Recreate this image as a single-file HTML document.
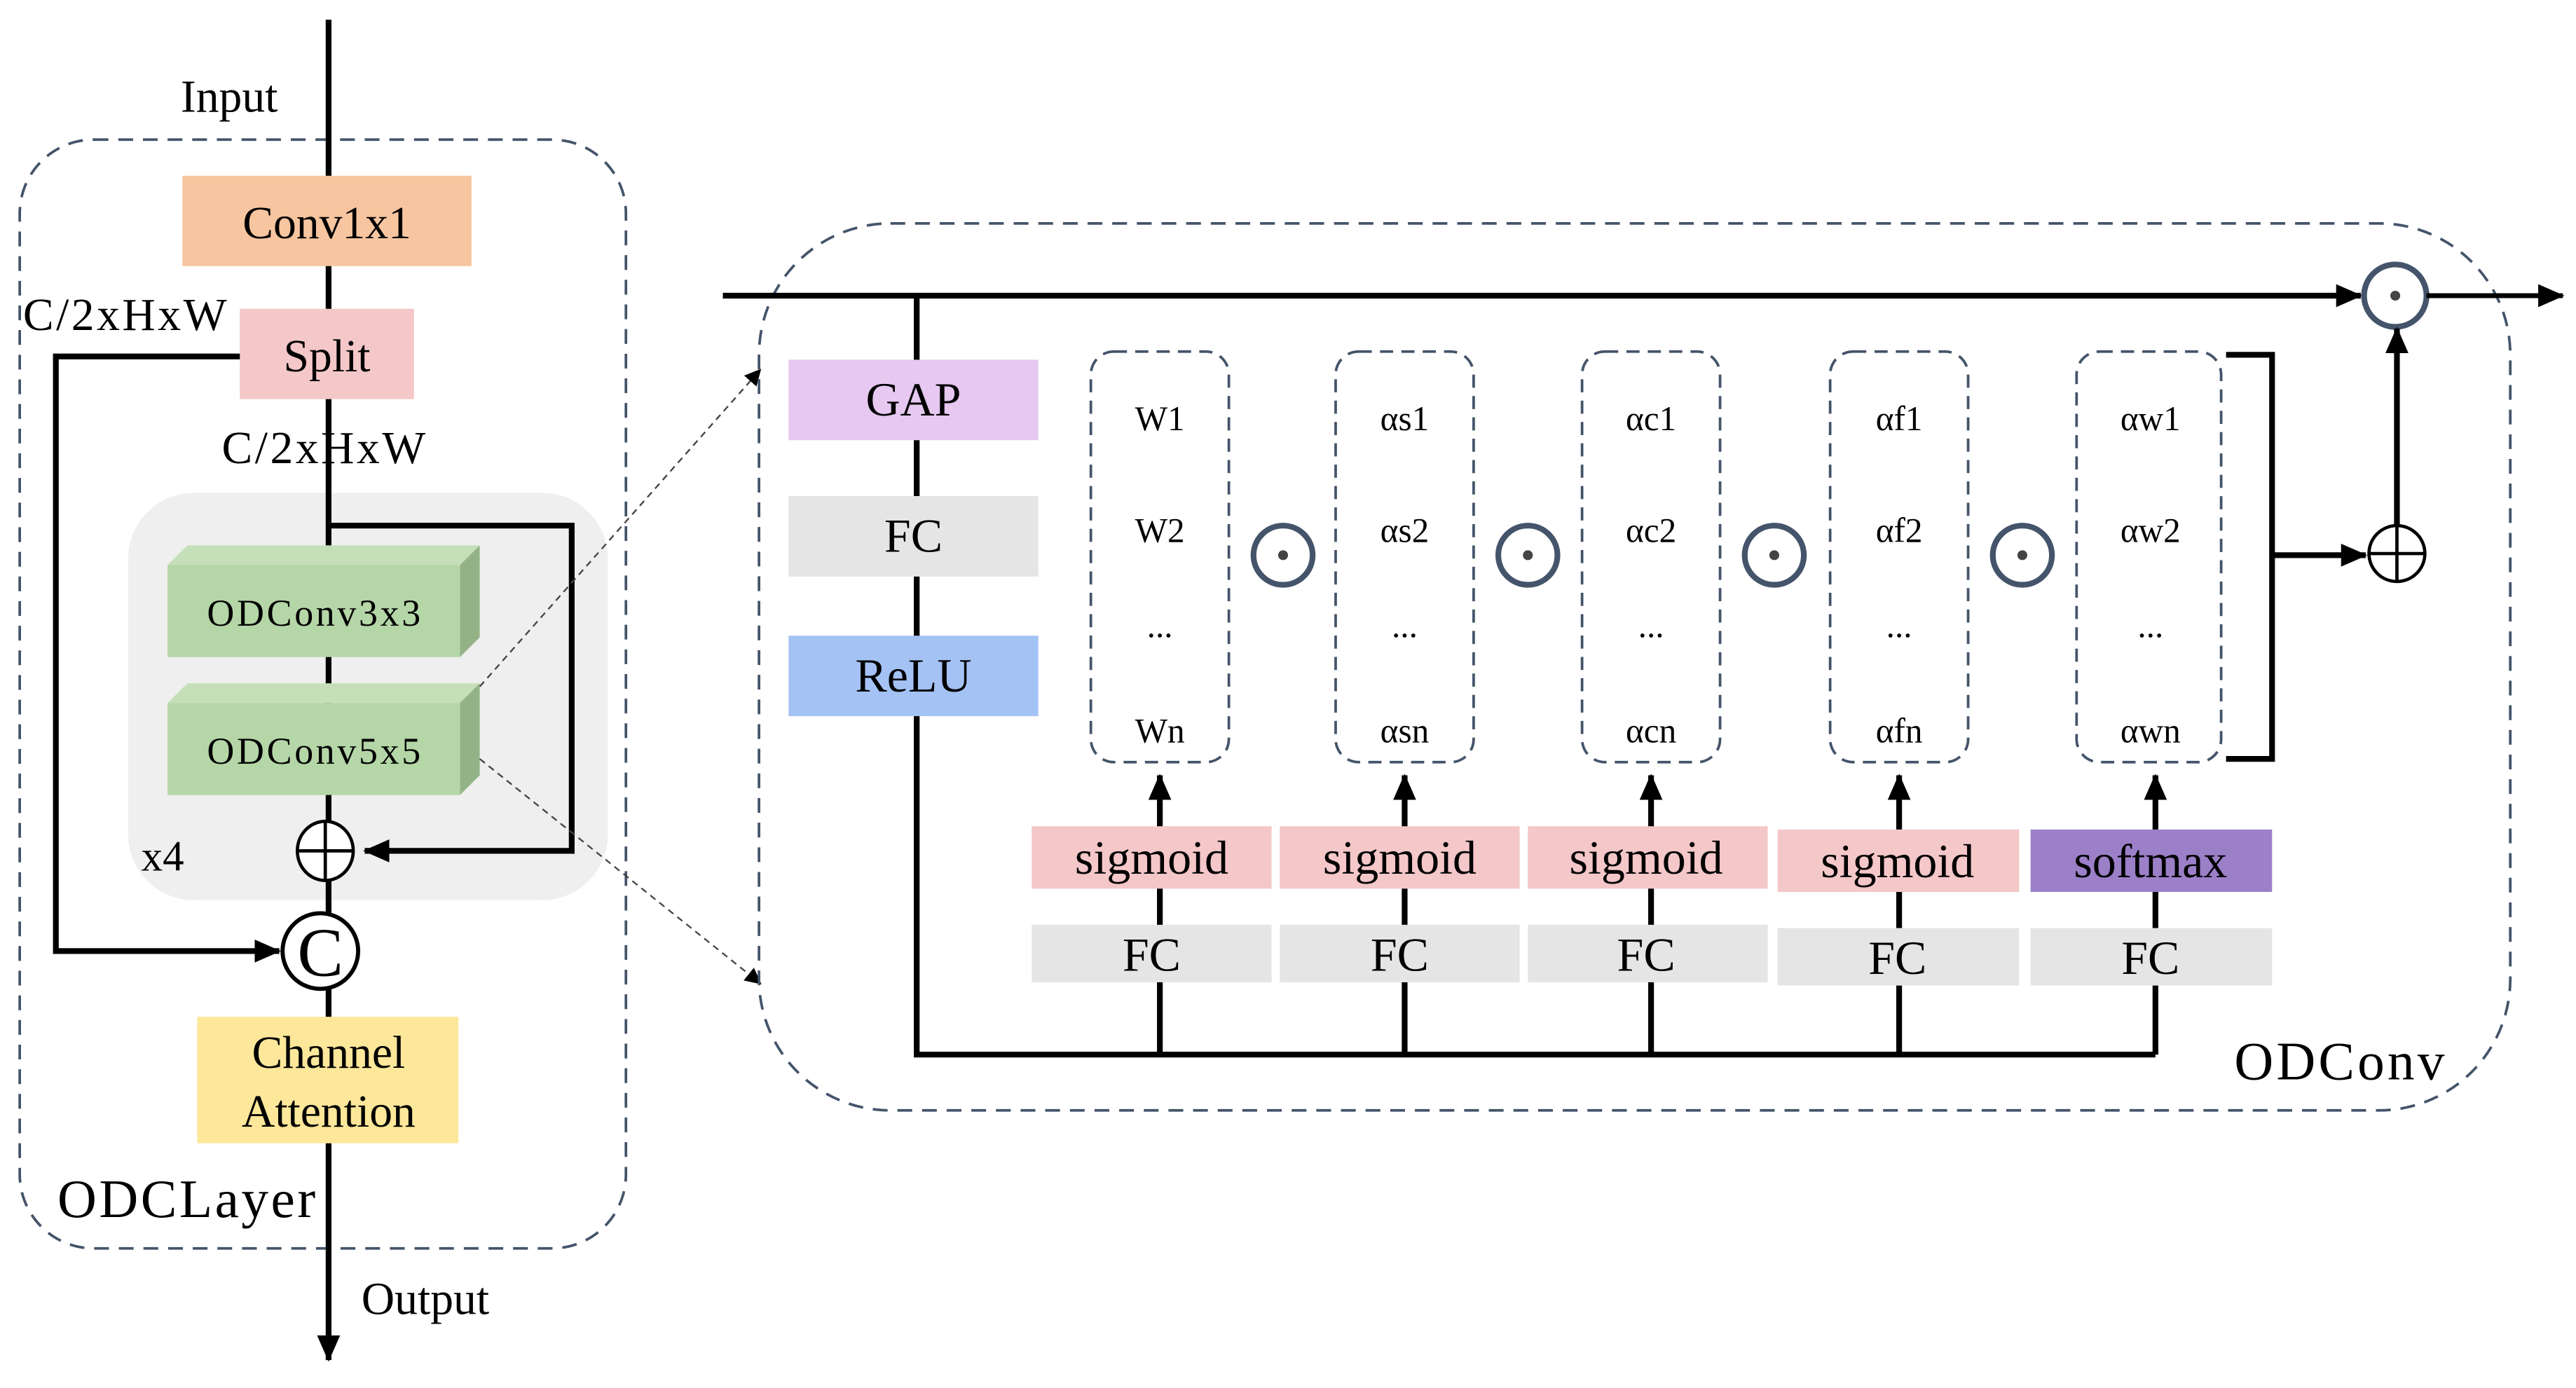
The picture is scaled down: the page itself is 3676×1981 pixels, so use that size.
<!DOCTYPE html>
<html><head><meta charset="utf-8"><style>html,body{margin:0;padding:0;background:#fff}svg{display:block}text{font-family:"Liberation Serif","DejaVu Serif",serif}</style></head><body>
<svg width="3676" height="1981" viewBox="0 0 1568 845" xmlns="http://www.w3.org/2000/svg">
<defs>
<marker id="a" markerWidth="10" markerHeight="10" refX="8" refY="5" orient="auto" markerUnits="userSpaceOnUse"><path d="M0,0 L10,5 L0,10 Z" fill="#000"/></marker>
<marker id="b" markerWidth="16" markerHeight="14" refX="15" refY="7" orient="auto" markerUnits="userSpaceOnUse"><path d="M0,0 L16,7 L0,14 Z" fill="#000"/></marker>
</defs>
<rect x="12" y="85" width="369" height="675" rx="45" fill="none" stroke="#44546a" stroke-width="1.6" stroke-dasharray="9,6"/>
<rect x="78" y="300" width="292" height="248" rx="40" fill="#efefef"/>
<line x1="200" y1="12" x2="200" y2="620" stroke="#000" stroke-width="3.5"/>
<text x="110" y="68" font-size="28">Input</text>
<rect x="111" y="107" width="176" height="55" fill="#f7c59f"/>
<text x="199" y="145" font-size="28" text-anchor="middle">Conv1x1</text>
<rect x="146" y="188" width="106" height="55" fill="#f4c7c9"/>
<text x="199" y="226" font-size="28" text-anchor="middle">Split</text>
<text x="14" y="201" font-size="28" textLength="124">C/2xHxW</text>
<text x="135" y="282" font-size="28" textLength="124">C/2xHxW</text>
<polyline points="200,320 348,320 348,518 222,518" fill="none" stroke="#000" stroke-width="3.5" marker-end="url(#b)"/>
<polyline points="146,217 34,217 34,579 170,579" fill="none" stroke="#000" stroke-width="3.5" marker-end="url(#b)"/>
<polygon points="102,344 114,332 292,332 280,344" fill="#c5e0b8"/>
<polygon points="280,344 292,332 292,388 280,400" fill="#93b387"/>
<rect x="102" y="344" width="178" height="56" fill="#b5d6a7"/>
<text x="191" y="381" font-size="23" text-anchor="middle" textLength="130">ODConv3x3</text>
<polygon points="102,428 114,416 292,416 280,428" fill="#c5e0b8"/>
<polygon points="280,428 292,416 292,472 280,484" fill="#93b387"/>
<rect x="102" y="428" width="178" height="56" fill="#b5d6a7"/>
<text x="191" y="465" font-size="23" text-anchor="middle" textLength="130">ODConv5x5</text>
<text x="86" y="530" font-size="26">x4</text>
<ellipse cx="198" cy="518" rx="17" ry="18" fill="#fff" stroke="#000" stroke-width="2"/>
<line x1="181" y1="518" x2="215" y2="518" stroke="#000" stroke-width="2"/>
<line x1="198" y1="500" x2="198" y2="536" stroke="#000" stroke-width="2"/>
<circle cx="195" cy="579" r="23" fill="#fff" stroke="#000" stroke-width="2.5"/>
<text x="195" y="594" font-size="42" text-anchor="middle">C</text>
<rect x="120" y="619" width="159" height="77" fill="#fde79a"/>
<text x="200" y="650" font-size="28" text-anchor="middle">Channel</text>
<text x="200" y="686" font-size="28" text-anchor="middle">Attention</text>
<line x1="200" y1="696" x2="200" y2="828" stroke="#000" stroke-width="3.5" marker-end="url(#b)"/>
<text x="35" y="741" font-size="33" textLength="157">ODCLayer</text>
<text x="220" y="800" font-size="28">Output</text>
<line x1="292" y1="418" x2="462" y2="226" stroke="#444" stroke-width="1" stroke-dasharray="4,3" marker-end="url(#a)"/>
<line x1="292" y1="462" x2="462" y2="598" stroke="#444" stroke-width="1" stroke-dasharray="4,3" marker-end="url(#a)"/>
<rect x="462" y="136" width="1066" height="540" rx="80" fill="none" stroke="#44546a" stroke-width="1.6" stroke-dasharray="9,6"/>
<line x1="440" y1="180" x2="1437" y2="180" stroke="#000" stroke-width="3.5" marker-end="url(#b)"/>
<circle cx="1458" cy="180" r="19" fill="#fff" stroke="#44546a" stroke-width="3.5"/>
<circle cx="1458" cy="180" r="3" fill="#444"/>
<line x1="1477" y1="180" x2="1560" y2="180" stroke="#000" stroke-width="3" marker-end="url(#b)"/>
<polyline points="558,180 558,642 1312,642" fill="none" stroke="#000" stroke-width="3.5"/>
<rect x="480" y="219" width="152" height="49" fill="#e6c8f0"/>
<text x="556" y="253" font-size="29" text-anchor="middle">GAP</text>
<rect x="480" y="302" width="152" height="49" fill="#e5e5e5"/>
<text x="556" y="336" font-size="29" text-anchor="middle">FC</text>
<rect x="480" y="387" width="152" height="49" fill="#a4c2f4"/>
<text x="556" y="421" font-size="29" text-anchor="middle">ReLU</text>
<g font-size="21" text-anchor="middle">
<g transform="translate(706,0)">
<rect x="-42" y="214" width="84" height="250" rx="14" fill="none" stroke="#44546a" stroke-width="1.6" stroke-dasharray="8,5"/>
<text y="262">W1</text><text y="330">W2</text><text y="388">...</text><text y="452">Wn</text>
<line x1="0" y1="642" x2="0" y2="472" stroke="#000" stroke-width="3.5" marker-end="url(#b)"/>
<rect x="-78" y="503" width="146" height="38" fill="#f4c7c9"/><text x="-5" y="532" font-size="29">sigmoid</text>
<rect x="-78" y="563" width="146" height="35" fill="#e5e5e5"/><text x="-5" y="591" font-size="29">FC</text></g>
<g transform="translate(855,0)">
<rect x="-42" y="214" width="84" height="250" rx="14" fill="none" stroke="#44546a" stroke-width="1.6" stroke-dasharray="8,5"/>
<text y="262">αs1</text><text y="330">αs2</text><text y="388">...</text><text y="452">αsn</text>
<line x1="0" y1="642" x2="0" y2="472" stroke="#000" stroke-width="3.5" marker-end="url(#b)"/>
<rect x="-76" y="503" width="146" height="38" fill="#f4c7c9"/><text x="-3" y="532" font-size="29">sigmoid</text>
<rect x="-76" y="563" width="146" height="35" fill="#e5e5e5"/><text x="-3" y="591" font-size="29">FC</text></g>
<g transform="translate(1005,0)">
<rect x="-42" y="214" width="84" height="250" rx="14" fill="none" stroke="#44546a" stroke-width="1.6" stroke-dasharray="8,5"/>
<text y="262">αc1</text><text y="330">αc2</text><text y="388">...</text><text y="452">αcn</text>
<line x1="0" y1="642" x2="0" y2="472" stroke="#000" stroke-width="3.5" marker-end="url(#b)"/>
<rect x="-75" y="503" width="146" height="38" fill="#f4c7c9"/><text x="-3" y="532" font-size="29">sigmoid</text>
<rect x="-75" y="563" width="146" height="35" fill="#e5e5e5"/><text x="-3" y="591" font-size="29">FC</text></g>
<g transform="translate(1156,0)">
<rect x="-42" y="214" width="84" height="250" rx="14" fill="none" stroke="#44546a" stroke-width="1.6" stroke-dasharray="8,5"/>
<text y="262">αf1</text><text y="330">αf2</text><text y="388">...</text><text y="452">αfn</text>
<line x1="0" y1="642" x2="0" y2="472" stroke="#000" stroke-width="3.5" marker-end="url(#b)"/>
<rect x="-74" y="505" width="147" height="38" fill="#f4c7c9"/><text x="-1" y="534" font-size="29">sigmoid</text>
<rect x="-74" y="565" width="147" height="35" fill="#e5e5e5"/><text x="-1" y="593" font-size="29">FC</text></g>
<g transform="translate(1309,0)">
<rect x="-45" y="214" width="88" height="250" rx="14" fill="none" stroke="#44546a" stroke-width="1.6" stroke-dasharray="8,5"/>
<text y="262">αw1</text><text y="330">αw2</text><text y="388">...</text><text y="452">αwn</text>
<line x1="3" y1="642" x2="3" y2="472" stroke="#000" stroke-width="3.5" marker-end="url(#b)"/>
<rect x="-73" y="505" width="147" height="38" fill="#9b80c8"/><text x="0" y="534" font-size="29">softmax</text>
<rect x="-73" y="565" width="147" height="35" fill="#e5e5e5"/><text x="0" y="593" font-size="29">FC</text></g>
</g>
<g fill="#fff" stroke="#44546a" stroke-width="3.5">
<circle cx="781" cy="338" r="18"/><circle cx="930" cy="338" r="18"/><circle cx="1080" cy="338" r="18"/><circle cx="1231" cy="338" r="18"/>
</g>
<g fill="#444"><circle cx="781" cy="338" r="3"/><circle cx="930" cy="338" r="3"/><circle cx="1080" cy="338" r="3"/><circle cx="1231" cy="338" r="3"/></g>
<polyline points="1355,216 1383,216 1383,462 1355,462" fill="none" stroke="#000" stroke-width="3.5"/>
<line x1="1383" y1="338" x2="1440" y2="338" stroke="#000" stroke-width="3.5" marker-end="url(#b)"/>
<circle cx="1459" cy="337" r="17" fill="#fff" stroke="#000" stroke-width="2"/>
<line x1="1442" y1="337" x2="1476" y2="337" stroke="#000" stroke-width="2"/>
<line x1="1459" y1="320" x2="1459" y2="354" stroke="#000" stroke-width="2"/>
<line x1="1459" y1="320" x2="1459" y2="200" stroke="#000" stroke-width="3.5" marker-end="url(#b)"/>
<text x="1360" y="657" font-size="33" textLength="128">ODConv</text>
</svg>
</body></html>
